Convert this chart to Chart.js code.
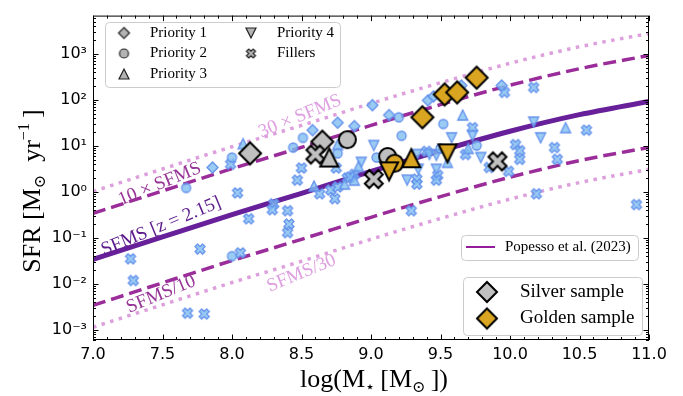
<!DOCTYPE html>
<html>
<head>
<meta charset="utf-8">
<title>SFR vs stellar mass</title>
<script src="https://cdn.jsdelivr.net/npm/chart.js@4.4.1/dist/chart.umd.min.js"></script>
<style>
  html, body { margin: 0; padding: 0; background: #ffffff; }
  canvas { display: block; }
</style>
</head>
<body>
<canvas id="chart" width="683" height="396"></canvas>
<script>
// Star-forming main sequence at z = 2.15 (Popesso et al. 2023): log M*, SFR [Msun/yr]
const sfmsMass = [7.0, 7.5, 8.0, 8.5, 9.0, 9.5, 10.0, 10.5, 11.0];
const sfmsSfr  = [0.034, 0.105, 0.32, 0.93, 2.8, 7.9, 20.9, 47.9, 93];

// Targets by priority class
const p1Mass = [7.86, 8.58, 8.76, 8.88, 9.01, 9.13, 9.41, 9.45, 9.65, 9.94];
const p1Sfr  = [3.4, 22, 32, 27, 77, 47, 98, 120, 206, 206];

const p2Mass = [7.67, 8.00, 8.00, 8.44, 8.51, 8.76, 9.04, 9.20, 9.22, 9.50, 9.52, 9.76];
const p2Sfr  = [1.22, 5.6, 0.040, 9.2, 15, 6.9, 5.6, 42, 16.6, 8.8, 30, 10.2];

const p3Mass = [8.08, 8.59, 8.76, 8.81, 8.88, 8.91, 9.55, 9.66, 9.70, 10.40];
const p3Sfr  = [11.2, 1.35, 10.7, 1.48, 1.8, 3.6, 4.4, 47, 8.8, 25];

const p4Mass = [8.93, 9.02, 9.26, 9.33, 9.34, 9.42, 9.47, 9.47, 9.58, 9.73, 9.79, 10.17, 10.22];
const p4Sfr  = [4.4, 10.2, 1.8, 6.5, 3.1, 6.5, 3.1, 6.2, 15, 16.6, 5.6, 33, 15];

const fillerMass = [7.27, 7.29, 7.68, 7.80, 7.77, 7.99, 8.04, 8.12, 8.06, 8.30, 8.29, 8.40, 8.41, 8.40,
                    8.50, 8.75, 8.47, 8.63, 8.71, 8.74, 8.76, 8.83, 8.88, 8.85, 9.33, 9.33, 9.40, 9.48,
                    9.47, 9.68, 9.73, 9.85, 9.99, 10.04, 10.07, 10.07, 10.32, 10.34, 10.17, 9.96, 10.55,
                    10.19, 10.91, 9.29];
const fillerSfr  = [0.035, 0.0118, 0.0023, 0.0022, 0.057, 4.0, 0.95, 0.26, 0.047, 0.55, 0.41, 0.39, 0.20, 0.13,
                    3.3, 3.3, 1.8, 0.91, 1.10, 0.71, 1.28, 2.0, 2.4, 2.1, 1.9, 1.48, 7.6, 2.3,
                    1.8, 6.5, 25, 3.4, 2.8, 10.7, 7.9, 5.1, 9.2, 5.1, 187, 146, 22,
                    0.91, 0.53, 0.39];

// Selected samples (class: P1 diamond, P2 circle, P3 up-triangle, P4 down-triangle, F filler)
const silverMass  = [8.13, 8.65, 8.83, 8.60, 8.70, 9.12, 9.02, 9.91];
const silverSfr   = [6.9, 12.4, 13.7, 6.5, 5.6, 5.9, 1.9, 4.6];
const silverClass = ['P1', 'P1', 'P2', 'F', 'P3', 'P2', 'F', 'F'];

const goldenMass  = [9.37, 9.53, 9.62, 9.76, 9.17, 9.13, 9.29, 9.55];
const goldenSfr   = [42, 132, 146, 306, 4.2, 2.8, 5.4, 6.9];
const goldenClass = ['P1', 'P1', 'P1', 'P1', 'P2', 'P4', 'P3', 'P4'];

// Axis ticks
const xTickValues = [7.0, 7.5, 8.0, 8.5, 9.0, 9.5, 10.0, 10.5, 11.0];
const xTickLabels = ['7.0', '7.5', '8.0', '8.5', '9.0', '9.5', '10.0', '10.5', '11.0'];
const yTickValues = [1e-3, 1e-2, 1e-1, 1, 10, 100, 1000];
const yTickLabels = ['10\u207B\u00B3', '10\u207B\u00B2', '10\u207B\u00B9', '10\u2070', '10\u00B9', '10\u00B2', '10\u00B3'];

const SERIF = '"Liberation Serif", "DejaVu Serif", "DejaVu Sans", serif';
const SANS = '"DejaVu Sans", sans-serif';

// ---- marker glyphs ----
function tracePath(g, kind, h) {
  g.beginPath();
  if (kind === 'P1') { g.moveTo(0, -h); g.lineTo(h, 0); g.lineTo(0, h); g.lineTo(-h, 0); g.closePath(); }
  else if (kind === 'P2') { g.arc(0, 0, h, 0, 2 * Math.PI); }
  else if (kind === 'P3') { g.moveTo(0, -h); g.lineTo(h, h); g.lineTo(-h, h); g.closePath(); }
  else if (kind === 'P4') { g.moveTo(0, h); g.lineTo(-h, -h); g.lineTo(h, -h); g.closePath(); }
  else {
    const L = 1.06 * h, w = 0.354 * h;
    const pts = [[w, L], [w, w], [L, w], [L, -w], [w, -w], [w, -L], [-w, -L], [-w, -w], [-L, -w], [-L, w], [-w, w], [-w, L]];
    pts.forEach(([px, py], i) => {
      const rx = (px - py) / Math.SQRT2, ry = (px + py) / Math.SQRT2;
      if (i) g.lineTo(rx, ry); else g.moveTo(rx, ry);
    });
    g.closePath();
  }
}
function makeMarker(kind, size, fill, stroke, lw) {
  const pad = Math.ceil(lw) + 2;
  const dim = Math.ceil(size + 2 * pad);
  const cv = document.createElement('canvas');
  cv.width = dim; cv.height = dim;
  const g = cv.getContext('2d');
  g.translate(dim / 2, dim / 2);
  tracePath(g, kind, size / 2);
  g.fillStyle = fill; g.fill();
  g.lineJoin = 'miter'; g.lineWidth = lw; g.strokeStyle = stroke; g.stroke();
  return cv;
}

const BLUE_FILL = 'rgba(128,190,240,0.8)';
const BLUE_EDGE = 'rgb(100,145,236)';
const smallSize = { P1: 11, P2: 9, P3: 10, P4: 10, F: 10 };
const bigSize = { P1: 22, P2: 17, P3: 18, P4: 18, F: 18 };
const blueMarker = {};
for (const k in smallSize) blueMarker[k] = makeMarker(k, smallSize[k], BLUE_FILL, BLUE_EDGE, 1.3);
const silverMarker = {}, goldenMarker = {};
for (const k in bigSize) {
  silverMarker[k] = makeMarker(k, bigSize[k], '#c0c0c0', '#000000', 2);
  goldenMarker[k] = makeMarker(k, bigSize[k], '#daa520', '#000000', 2);
}

const pts = (xs, ys) => xs.map((x, i) => ({ x: x, y: ys[i] }));

function blueSet(label, xs, ys, kind) {
  return { label, data: pts(xs, ys), pointStyle: blueMarker[kind], pointRadius: 5, showLine: false, order: 5 };
}

// Main sequence and its offsets
const SOLID = '#67209a', DASHED = '#9a2d9a', DOTTED = '#dda0dd';
function sfmsSet(factor, color, width, dash) {
  return {
    label: 'SFMS x' + factor,
    data: sfmsMass.map((m, i) => ({ x: m, y: sfmsSfr[i] * factor })),
    showLine: true, pointRadius: 0, borderColor: color, borderWidth: width, borderDash: dash,
    borderCapStyle: 'butt', cubicInterpolationMode: 'monotone', fill: false, clip: 0, order: 10
  };
}

const datasets = [
  { label: 'Golden sample', data: pts(goldenMass, goldenSfr), pointStyle: goldenClass.map(k => goldenMarker[k]), pointRadius: 8, order: 1 },
  { label: 'Silver sample', data: pts(silverMass, silverSfr), pointStyle: silverClass.map(k => silverMarker[k]), pointRadius: 8, order: 2 },
  blueSet('Priority 1', p1Mass, p1Sfr, 'P1'),
  blueSet('Priority 2', p2Mass, p2Sfr, 'P2'),
  blueSet('Priority 3', p3Mass, p3Sfr, 'P3'),
  blueSet('Priority 4', p4Mass, p4Sfr, 'P4'),
  blueSet('Fillers', fillerMass, fillerSfr, 'F'),
  sfmsSet(1, SOLID, 5, []),
  sfmsSet(10, DASHED, 3.5, [13, 6]),
  sfmsSet(0.1, DASHED, 3.5, [13, 6]),
  sfmsSet(30, DOTTED, 3.5, [3.5, 5.5]),
  sfmsSet(1 / 30, DOTTED, 3.5, [3.5, 5.5])
];

// Labels along the main-sequence lines (anchored in data space)
const lineLabels = [
  { text: '30 \u00D7 SFMS', mass: 8.49, sfr: 44, color: '#dea0e0' },
  { text: '10 \u00D7 SFMS', mass: 7.48, sfr: 1.48, color: '#963596' },
  { text: 'SFMS [z = 2.15]', mass: 7.49, sfr: 0.178, color: '#5c1a8c' },
  { text: 'SFMS/10', mass: 7.49, sfr: 0.0059, color: '#963596' },
  { text: 'SFMS/30', mass: 8.50, sfr: 0.0169, color: '#dea0e0' }
];

function drawRich(ctx, parts, x, y, align) {
  let total = 0;
  for (const p of parts) { ctx.font = p.size + 'px ' + SERIF; p.w = ctx.measureText(p.t).width; total += p.w; }
  let cx = align === 'center' ? x - total / 2 : x;
  ctx.textAlign = 'left'; ctx.textBaseline = 'alphabetic';
  for (const p of parts) { ctx.font = p.size + 'px ' + SERIF; ctx.fillText(p.t, cx, y + (p.dy || 0)); cx += p.w; }
}
function roundRect(ctx, x0, y0, x1, y1, r) {
  ctx.beginPath();
  ctx.moveTo(x0 + r, y0); ctx.lineTo(x1 - r, y0); ctx.arcTo(x1, y0, x1, y0 + r, r);
  ctx.lineTo(x1, y1 - r); ctx.arcTo(x1, y1, x1 - r, y1, r);
  ctx.lineTo(x0 + r, y1); ctx.arcTo(x0, y1, x0, y1 - r, r);
  ctx.lineTo(x0, y0 + r); ctx.arcTo(x0, y0, x0 + r, y0, r);
  ctx.closePath();
}
function legendBox(ctx, x0, y0, x1, y1) {
  roundRect(ctx, x0 + 0.5, y0 + 0.5, x1 + 0.5, y1 + 0.5, 4);
  ctx.fillStyle = 'rgba(255,255,255,0.8)'; ctx.fill();
  ctx.strokeStyle = '#cccccc'; ctx.lineWidth = 1; ctx.stroke();
}
function stamp(ctx, img, x, y) { ctx.drawImage(img, x - img.width / 2, y - img.height / 2); }

const decorations = {
  id: 'decorations',
  afterDatasetsDraw(chart) {
    const { ctx, chartArea: a, scales: { x, y } } = chart;
    ctx.save();
    // labels on the SFMS curves
    for (const l of lineLabels) {
      ctx.save();
      ctx.translate(x.getPixelForValue(l.mass), y.getPixelForValue(l.sfr));
      ctx.rotate(-22.5 * Math.PI / 180);
      ctx.font = '19px ' + SERIF; ctx.fillStyle = l.color;
      ctx.textAlign = 'center'; ctx.textBaseline = 'middle';
      ctx.fillText(l.text, 0, 0);
      ctx.restore();
    }
    // inward ticks on all four sides
    ctx.strokeStyle = '#000'; ctx.lineWidth = 1;
    const seg = (x0, y0, x1, y1) => { ctx.beginPath(); ctx.moveTo(x0, y0); ctx.lineTo(x1, y1); ctx.stroke(); };
    for (let i = 0; i <= 40; i++) {
      const v = 7 + i * 0.1;
      const px = Math.round(x.getPixelForValue(v)) + 0.5;
      const len = i % 5 === 0 ? 5.5 : 3;
      seg(px, a.bottom, px, a.bottom - len);
      seg(px, a.top, px, a.top + len);
    }
    for (let k = -4; k <= 3; k++) {
      for (let j = 1; j <= 9; j++) {
        const v = j * Math.pow(10, k);
        if (v < y.min || v > y.max) continue;
        const py = Math.round(y.getPixelForValue(v)) + 0.5;
        const len = j === 1 ? 5.5 : 3;
        seg(a.left, py, a.left + len, py);
        seg(a.right, py, a.right - len, py);
      }
    }
    ctx.strokeRect(a.left + 0.5, a.top + 0.5, a.right - a.left - 1, a.bottom - a.top - 1);
    ctx.restore();
  },
  afterDraw(chart) {
    const { ctx } = chart;
    ctx.save();
    ctx.fillStyle = '#000';
    // axis titles
    drawRich(ctx, [
      { t: 'log(M', size: 26 }, { t: '\u22C6', size: 16, dy: 5 }, { t: '\u2009[M', size: 26 },
      { t: '\u2299', size: 16, dy: 5 }, { t: '\u2009])', size: 26 }
    ], 374, 387, 'center');
    ctx.save();
    ctx.translate(40, 191); ctx.rotate(-Math.PI / 2);
    drawRich(ctx, [
      { t: 'SFR [M', size: 26 }, { t: '\u2299', size: 16, dy: 5 }, { t: '\u2002yr', size: 26 },
      { t: '\u22121', size: 16, dy: -11 }, { t: '\u2009]', size: 26 }
    ], 0, 0, 'center');
    ctx.restore();

    // priority legend
    const gray = {};
    for (const k in smallSize) gray[k] = makeMarker(k, k === 'F' ? 9 : smallSize[k], '#b3b3b3', '#222222', 1.2);
    legendBox(ctx, 105, 22, 340, 87);
    const entries = [['P1', 'Priority 1', 124, 33], ['P2', 'Priority 2', 124, 53.5], ['P3', 'Priority 3', 124, 74],
                     ['P4', 'Priority 4', 251, 33], ['F', 'Fillers', 251, 53.5]];
    ctx.font = '15px ' + SERIF; ctx.textAlign = 'left'; ctx.textBaseline = 'middle'; ctx.fillStyle = '#000';
    for (const [k, t, mx, my] of entries) { stamp(ctx, gray[k], mx, my); ctx.fillText(t, mx + 26, my); }

    // reference legend
    legendBox(ctx, 461, 235, 638, 260);
    ctx.strokeStyle = '#941e99'; ctx.lineWidth = 2;
    ctx.beginPath(); ctx.moveTo(466, 247); ctx.lineTo(495, 247); ctx.stroke();
    ctx.font = '15px ' + SERIF; ctx.fillStyle = '#000';
    ctx.fillText('Popesso et al. (2023)', 505, 247);

    // sample legend
    legendBox(ctx, 463, 277, 642, 335);
    stamp(ctx, makeMarker('P1', 20, '#c0c0c0', '#000', 2), 487, 292);
    stamp(ctx, makeMarker('P1', 20, '#daa520', '#000', 2), 487, 318.5);
    ctx.font = '19px ' + SERIF; ctx.fillStyle = '#000';
    ctx.fillText('Silver sample', 520, 292);
    ctx.fillText('Golden sample', 520, 318.5);
    ctx.restore();
  }
};

new Chart(document.getElementById('chart'), {
  type: 'scatter',
  data: { datasets },
  options: {
    responsive: false,
    animation: false,
    devicePixelRatio: 1,
    events: [],
    layout: { padding: { top: 11, right: 34, bottom: 0, left: 0 } },
    plugins: { legend: { display: false }, tooltip: { enabled: false } },
    scales: {
      x: {
        type: 'linear', min: 7, max: 11,
        grid: { display: false, drawTicks: false }, border: { display: false },
        afterBuildTicks: s => { s.ticks = xTickValues.map(v => ({ value: v })); },
        afterFit: s => { s.height = 56; },
        ticks: { callback: (v, i) => xTickLabels[i], font: { family: SANS, size: 16 }, color: '#000',
                 padding: 5, maxRotation: 0, autoSkip: false }
      },
      y: {
        type: 'logarithmic', min: 6.3e-4, max: 6840,
        grid: { display: false, drawTicks: false }, border: { display: false },
        afterBuildTicks: s => { s.ticks = yTickValues.map(v => ({ value: v })); },
        afterFit: s => { s.width = 93; },
        ticks: { callback: (v, i) => yTickLabels[i], font: { family: SANS, size: 16 }, color: '#000',
                 padding: 6, autoSkip: false }
      }
    }
  },
  plugins: [decorations]
});
</script>
</body>
</html>
